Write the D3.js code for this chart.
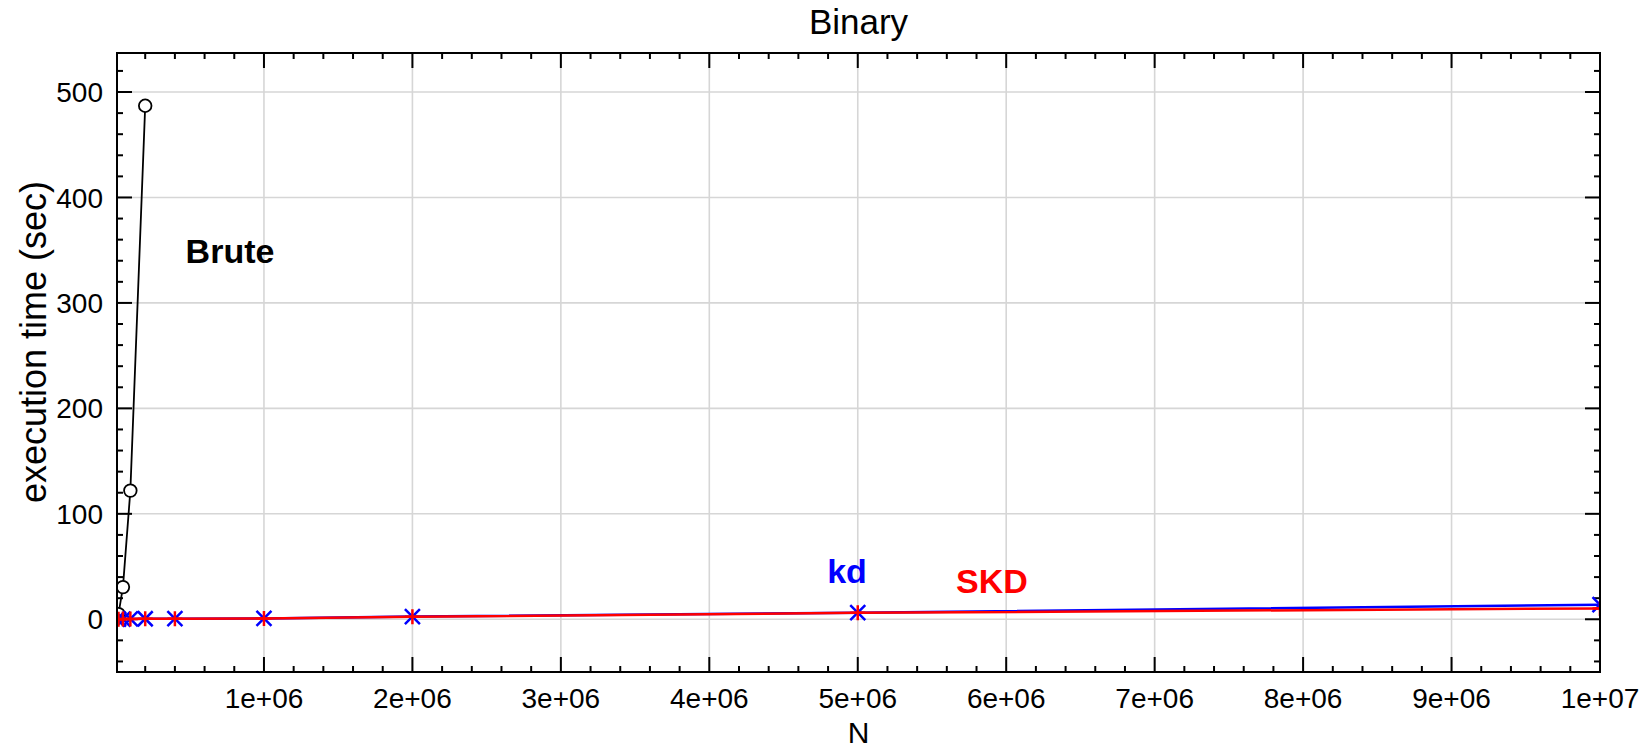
<!DOCTYPE html>
<html>
<head>
<meta charset="utf-8">
<script src="https://cdn.jsdelivr.net/npm/d3@7"></script>
<style>
  html, body { margin: 0; padding: 0; background: #fff; }
  #chart { width: 1650px; height: 750px; }
  text { font-family: "Liberation Sans", Arial, sans-serif; }
</style>
</head>
<body>
<div id="chart"></div>
<script>
// problem sizes and timings (seconds)
const bruteN = [1e4, 2e4, 5e4, 1e5, 2e5];
const bruteTime = [1.2, 4.9, 30.5, 122, 487];

const treeN = [1e4, 2e4, 5e4, 1e5, 2e5, 4e5, 1e6, 2e6, 5e6, 1e7];
const kdTime = [0.05, 0.1, 0.2, 0.3, 0.5, 0.6, 0.8, 2.6, 6.3, 13.8];
const skdTime = [0.05, 0.1, 0.2, 0.3, 0.5, 0.6, 0.8, 2.3, 6.1, 10.3];

const xTicks = [1e6, 2e6, 3e6, 4e6, 5e6, 6e6, 7e6, 8e6, 9e6, 1e7];
const xTickLabels = ['1e+06', '2e+06', '3e+06', '4e+06', '5e+06', '6e+06', '7e+06', '8e+06', '9e+06', '1e+07'];
const yTicks = [0, 100, 200, 300, 400, 500];

class TimingChart {
  constructor(options) {
    this.options = options;
    this.$el = options.el;
    if (this.$el) this.draw();
  }
  draw() {
    const width = 1650, height = 750;
    const margin = {top: 53, right: 50, bottom: 78, left: 117};
    const x0 = margin.left, x1 = width - margin.right;
    const y0 = height - margin.bottom, y1 = margin.top;

    const svg = d3.select(this.$el).append('svg')
      .attr('width', width)
      .attr('height', height)
      .attr('viewBox', `0,0,${width},${height}`);

    const x = d3.scaleLinear().domain([1e4, 1e7]).range([x0, x1]);
    const y = d3.scaleLinear().domain([-50, 537]).range([y0, y1]);

    svg.append('clipPath').attr('id', 'plot-clip')
      .append('rect')
      .attr('x', x0).attr('y', y1)
      .attr('width', x1 - x0).attr('height', y0 - y1);

    // grid
    const grid = svg.append('g').attr('class', 'grid')
      .style('stroke', '#d6d6d6').style('stroke-width', 1.6);
    grid.selectAll('.gx').data(xTicks).join('line')
      .attr('x1', d => x(d)).attr('x2', d => x(d))
      .attr('y1', y0).attr('y2', y1);
    grid.selectAll('.gy').data(yTicks).join('line')
      .attr('y1', d => y(d)).attr('y2', d => y(d))
      .attr('x1', x0).attr('x2', x1);

    // ticks on all four sides, pointing inwards
    const xMinor = d3.range(2e5, 1e7, 2e5).filter(v => Math.abs(v / 1e6 - Math.round(v / 1e6)) > 1e-9);
    const yMinor = d3.range(-40, 537, 20).filter(v => v % 100 !== 0);
    const ticks = svg.append('g').style('stroke', '#000').style('stroke-width', 2);
    const tickX = (vals, len) => {
      ticks.append('g').selectAll('line').data(vals).join('line')
        .attr('x1', d => x(d)).attr('x2', d => x(d)).attr('y1', y0).attr('y2', y0 - len);
      ticks.append('g').selectAll('line').data(vals).join('line')
        .attr('x1', d => x(d)).attr('x2', d => x(d)).attr('y1', y1).attr('y2', y1 + len);
    };
    const tickY = (vals, len) => {
      ticks.append('g').selectAll('line').data(vals).join('line')
        .attr('y1', d => y(d)).attr('y2', d => y(d)).attr('x1', x0).attr('x2', x0 + len);
      ticks.append('g').selectAll('line').data(vals).join('line')
        .attr('y1', d => y(d)).attr('y2', d => y(d)).attr('x1', x1).attr('x2', x1 - len);
    };
    tickX(xTicks, 15); tickX(xMinor, 6);
    tickY(yTicks, 15); tickY(yMinor, 6);

    // tick labels
    svg.append('g').selectAll('text').data(xTicks).join('text')
      .attr('x', d => x(d)).attr('y', 708)
      .attr('text-anchor', 'middle')
      .style('font-size', '28px')
      .text((d, i) => xTickLabels[i]);
    svg.append('g').selectAll('text').data(yTicks).join('text')
      .attr('x', 103).attr('y', d => y(d)).attr('dy', '0.36em')
      .attr('text-anchor', 'end')
      .style('font-size', '28px')
      .text(d => d);

    // series
    const plot = svg.append('g').attr('clip-path', 'url(#plot-clip)');
    const line = d3.line().x(d => x(d[0])).y(d => y(d[1]));

    const brute = d3.zip(bruteN, bruteTime);
    const kd = d3.zip(treeN, kdTime);
    const skd = d3.zip(treeN, skdTime);

    plot.append('path').datum(brute).attr('d', line)
      .attr('fill', 'none').attr('stroke', '#000').attr('stroke-width', 1.8);
    plot.append('g').selectAll('circle').data(brute).join('circle')
      .attr('cx', d => x(d[0])).attr('cy', d => y(d[1])).attr('r', 6.3)
      .attr('fill', '#fff').attr('stroke', '#000').attr('stroke-width', 1.8);

    plot.append('path').datum(kd).attr('d', line)
      .attr('fill', 'none').attr('stroke', '#0000ff').attr('stroke-width', 2.5);
    const s = 7.5;
    plot.append('g').selectAll('path').data(kd).join('path')
      .attr('d', d => {
        const cx = x(d[0]), cy = y(d[1]);
        return `M${cx - s},${cy - s}L${cx + s},${cy + s}M${cx - s},${cy + s}L${cx + s},${cy - s}`;
      })
      .attr('stroke', '#0000ff').attr('stroke-width', 2.5).attr('fill', 'none');

    plot.append('path').datum(skd).attr('d', line)
      .attr('fill', 'none').attr('stroke', '#ff0000').attr('stroke-width', 2.5);
    plot.append('g').selectAll('path').data(skd).join('path')
      .attr('d', d => {
        const cx = x(d[0]), cy = y(d[1]);
        return `M${cx},${cy - s}L${cx},${cy + s}M${cx - s},${cy}L${cx + s},${cy}`;
      })
      .attr('stroke', '#ff0000').attr('stroke-width', 2.5).attr('fill', 'none');

    // frame
    svg.append('rect')
      .attr('x', x0).attr('y', y1)
      .attr('width', x1 - x0).attr('height', y0 - y1)
      .attr('fill', 'none').attr('stroke', '#000').attr('stroke-width', 2);

    // series labels
    const labels = [
      {text: 'Brute', color: '#000', x: 230, y: 263},
      {text: 'kd', color: '#0000ff', x: 847, y: 583},
      {text: 'SKD', color: '#ff0000', x: 992, y: 593}
    ];
    svg.append('g').selectAll('text').data(labels).join('text')
      .attr('x', d => d.x).attr('y', d => d.y)
      .attr('text-anchor', 'middle')
      .style('font-size', '34px').style('font-weight', 'bold')
      .attr('fill', d => d.color)
      .text(d => d.text);

    // titles
    svg.append('text')
      .attr('x', (x0 + x1) / 2).attr('y', 34)
      .attr('text-anchor', 'middle')
      .style('font-size', '35px')
      .text('Binary');
    svg.append('text')
      .attr('x', (x0 + x1) / 2).attr('y', 743)
      .attr('text-anchor', 'middle')
      .style('font-size', '30px')
      .text('N');
    svg.append('text')
      .attr('transform', `translate(46,342) rotate(-90)`)
      .attr('text-anchor', 'middle')
      .style('font-size', '36px')
      .text('execution time (sec)');
  }
}

new TimingChart({el: document.getElementById('chart')});
</script>
</body>
</html>
